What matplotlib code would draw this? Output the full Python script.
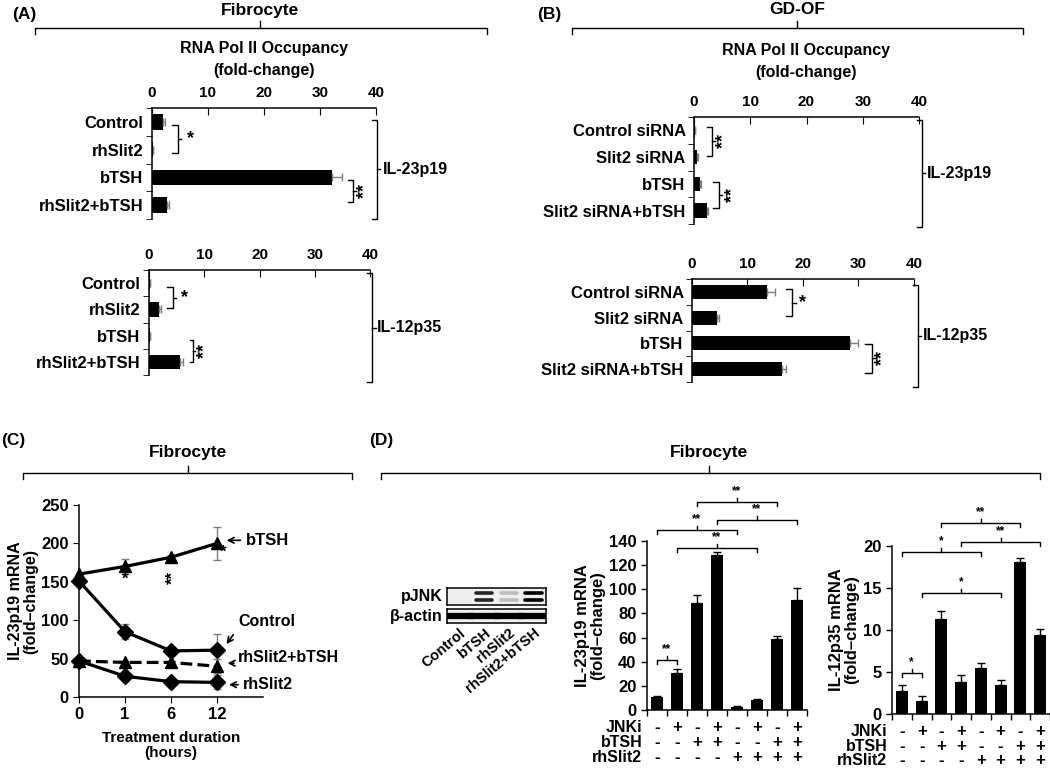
import numpy as np
import matplotlib.pyplot as plt
from matplotlib.lines import Line2D

plt.rcParams['font.family'] = ['Liberation Sans', 'DejaVu Sans']
plt.rcParams['font.weight'] = 'bold'
plt.rcParams['axes.labelweight'] = 'bold'
plt.rcParams['axes.linewidth'] = 1.1

# ---- data ----
a_labels = ["Control", "rhSlit2", "bTSH", "rhSlit2+bTSH"]
a_il23 = [2.0, 0.15, 32.1, 2.7]
a_il23_err = [0.3, 0.05, 1.8, 0.4]
a_il12 = [0.1, 1.8, 0.1, 5.6]
a_il12_err = [0.05, 0.3, 0.05, 0.6]

b_labels = ["Control siRNA", "Slit2 siRNA", "bTSH", "Slit2 siRNA+bTSH"]
b_il23 = [0.1, 0.6, 1.1, 2.3]
b_il23_err = [0.05, 0.1, 0.1, 0.2]
b_il12 = [13.5, 4.5, 28.5, 16.2]
b_il12_err = [1.5, 0.4, 1.4, 0.8]

hours = ["0", "1", "6", "12"]
c_btsh = [160, 170, 182, 200]
c_btsh_err = [2, 10, 3, 21]
c_control = [151, 85, 60, 61]
c_control_err = [3, 10, 3, 21]
c_combo = [47, 45, 45, 40]
c_combo_err = [2, 2, 2, 9]
c_rhslit2 = [47, 27, 20, 19]
c_rhslit2_err = [2, 3, 3, 9]

blot_lanes = ["Control", "bTSH", "rhSlit2", "rhSlit2+bTSH"]
pjnk = [0.0, 0.85, 0.2, 1.0]
actin = [1.0, 1.0, 1.0, 1.0]

d_il23 = [11, 30.5, 89, 128, 2.5, 8.3, 59, 91.5]
d_il23_err = [0.7, 3.3, 6.6, 2.5, 0.5, 0.4, 2.0, 9.5]
d_il12 = [2.7, 1.5, 11.3, 3.8, 5.5, 3.5, 18.1, 9.4]
d_il12_err = [0.7, 0.7, 1.0, 0.8, 0.6, 0.5, 0.5, 0.7]
jnki = ['-', '+', '-', '+', '-', '+', '-', '+']
btsh = ['-', '-', '+', '+', '-', '-', '+', '+']
rhslit2 = ['-', '-', '-', '-', '+', '+', '+', '+']

W, H = 1050, 770
fig = plt.figure(figsize=(10.5, 7.7), dpi=100)


def box(x0, y0, x1, y1):
    # pixel box (y from top) -> figure rect
    return [x0 / W, 1 - y1 / H, (x1 - x0) / W, (y1 - y0) / H]


def fx(x):
    return x / W


def fy(y):
    return 1 - y / H


def ftext(x, y, s, **kw):
    fig.text(fx(x), fy(y), s, **kw)


def top_brace(x0, x1, xm, y, title, ty):
    fig.add_artist(Line2D([fx(x0), fx(x0), fx(x1), fx(x1)],
                          [fy(y + 6), fy(y), fy(y), fy(y + 6)], color='k', lw=1))
    fig.add_artist(Line2D([fx(xm), fx(xm)], [fy(y), fy(y - 7)], color='k', lw=1))
    ftext(xm, ty, title, ha='center', va='center', fontsize=12.5)


def curly(ax, x, y0, y1, w, txt, tx, rot):
    ym = (y0 + y1) / 2
    ax.plot([x - w, x, x, x - w], [y0, y0, y1, y1], color='k', lw=1, clip_on=False)
    ax.plot([x, x + w * 0.6], [ym, ym], color='k', lw=1, clip_on=False)
    ax.text(tx, ym, txt, rotation=rot, ha='center', va='center', fontsize=13)


def right_bracket(ax, x, y0, y1, lx, gene):
    ym = (y0 + y1) / 2
    ax.plot([x - 0.9, x, x, x - 0.9], [y0, y0, y1, y1], color='k', lw=1, clip_on=False)
    ax.plot([x, x + 0.6], [ym, ym], color='k', lw=1, clip_on=False)
    ax.text(lx, ym, gene, ha='left', va='center', fontsize=11.5)


def hbar(rect, labels, vals, errs, sigs, rb, gene):
    ax = fig.add_axes(rect)
    y = np.arange(len(vals))
    ax.barh(y, vals, height=0.55, color='k')
    ax.errorbar(vals, y, xerr=[np.zeros(len(errs)), errs], fmt='none',
                ecolor='#7f7f7f', elinewidth=1, capsize=3)
    ax.set_xlim(0, 40)
    ax.set_ylim(3.5, -0.5)
    ax.xaxis.tick_top()
    ax.set_xticks([0, 10, 20, 30, 40])
    ax.tick_params(axis='x', direction='in', length=5, pad=6, labelsize=11)
    ax.set_yticks(y, labels)
    ax.set_yticks(np.arange(-0.5, 4), minor=True)
    ax.tick_params(axis='y', which='major', length=0, pad=6, labelsize=12)
    ax.tick_params(axis='y', which='minor', length=4, direction='out')
    ax.spines['right'].set_visible(False)
    ax.spines['bottom'].set_visible(False)
    for s in sigs:
        curly(ax, *s)
    right_bracket(ax, *rb, gene)
    return ax


# ---- panel A ----
ftext(12, 15, "(A)", ha='left', va='center', fontsize=12.5)
top_brace(35, 487, 260, 28, "Fibrocyte", 10)
ftext(264, 48, "RNA Pol ll Occupancy", ha='center', va='center', fontsize=11.5)
ftext(264, 70, "(fold-change)", ha='center', va='center', fontsize=11.5)
hbar(box(152, 108, 376, 219), a_labels, a_il23, a_il23_err,
     [(4.6, 0.11, 1.12, 1.0, '*', 6.8, 0), (35.9, 2.1, 2.9, 0.9, '**', 38.0, 90)],
     (40.2, -0.07, 3.5, 41.2), "IL-23p19")
hbar(box(149, 270, 370, 375), a_labels, a_il12, a_il12_err,
     [(4.3, 0.15, 0.95, 1.0, '*', 6.5, 0), (8.0, 2.17, 3.0, 0.6, '**', 10.1, 90)],
     (40.4, -0.38, 3.77, 41.2), "IL-12p35")

# ---- panel B ----
ftext(537, 15, "(B)", ha='left', va='center', fontsize=12.5)
top_brace(572, 1023, 797, 28, "GD-OF", 10)
ftext(806, 51, "RNA Pol II Occupancy", ha='center', va='center', fontsize=11.5)
ftext(806, 72, "(fold-change)", ha='center', va='center', fontsize=11.5)
hbar(box(694, 117, 919, 224), b_labels, b_il23, b_il23_err,
     [(3.2, -0.13, 0.96, 0.9, '**', 5.2, 90), (4.4, 1.93, 2.9, 1.0, '**', 6.8, 90)],
     (40.5, -0.39, 3.6, 41.4), "IL-23p19")
hbar(box(692, 279, 914, 382), b_labels, b_il12, b_il12_err,
     [(18.0, -0.11, 0.94, 1.1, '*', 20.0, 0), (32.4, 2.02, 3.15, 1.2, '**', 34.4, 90)],
     (40.7, -0.27, 3.69, 41.6), "IL-12p35")

# ---- panel C ----
ftext(1, 440, "(C)", ha='left', va='center', fontsize=12.5)
top_brace(23, 352, 188, 473, "Fibrocyte", 453)
axc = fig.add_axes(box(79, 505, 263, 697))
xs = np.arange(len(hours))
series = [(c_btsh, c_btsh_err, '^', '-'), (c_control, c_control_err, 'D', '-'),
          (c_combo, c_combo_err, '^', '--'), (c_rhslit2, c_rhslit2_err, 'D', '-')]
for vals, errs, mk, ls in series:
    axc.errorbar(xs, vals, yerr=errs, fmt='none', ecolor='#7f7f7f', elinewidth=1, capsize=3)
    axc.plot(xs, vals, color='k', marker=mk, ls=ls, lw=2.3, ms=8, clip_on=False)
axc.set_xlim(0, 4)
axc.set_ylim(0, 250)
axc.set_yticks(range(0, 251, 50))
axc.set_xticks(xs, hours)
axc.tick_params(labelsize=12, length=4)
axc.spines['top'].set_visible(False)
axc.spines['right'].set_visible(False)
axc.set_ylabel("IL-23p19 mRNA\n(fold\u2013change)", fontsize=11.5, labelpad=2, linespacing=1.0)
axc.set_xlabel("Treatment duration\n(hours)", fontsize=11, labelpad=6, linespacing=1.15)
axc.text(1.0, 153, "*", ha='center', va='center', fontsize=12, zorder=5)
axc.text(2.05, 155, "**", ha='center', va='center', fontsize=12, rotation=90, zorder=5)
axc.text(3.14, 188, "*", ha='center', va='center', fontsize=12, zorder=5)
arr = dict(arrowstyle='->', color='k', lw=1.2)
axc.annotate('', xy=(3.15, 204), xytext=(3.57, 204), arrowprops=arr)
axc.text(3.63, 204, "bTSH", ha='left', va='center', fontsize=12)
axc.annotate('', xy=(3.17, 66), xytext=(3.39, 84), arrowprops=arr)
axc.text(3.46, 98, "Control", ha='left', va='center', fontsize=11.5)
axc.annotate('', xy=(3.17, 44), xytext=(3.43, 44), arrowprops=arr)
axc.text(3.46, 52, "rhSlit2+bTSH", ha='left', va='center', fontsize=11.5)
axc.annotate('', xy=(3.2, 16), xytext=(3.52, 16), arrowprops=arr)
axc.text(3.57, 16, "rhSlit2", ha='left', va='center', fontsize=11.5)

# ---- panel D ----
ftext(369, 440, "(D)", ha='left', va='center', fontsize=12.5)
top_brace(381, 1040, 709, 473, "Fibrocyte", 453)

# western blot
axp = fig.add_axes(box(447, 588, 546, 605))
axa = fig.add_axes(box(447, 609, 546, 623))
for ax in (axp, axa):
    ax.set_xlim(-0.5, 3.5)
    ax.set_ylim(0, 1)
    ax.set_facecolor('#eeeeee')
    ax.set_yticks([])
    ax.tick_params(axis='x', length=0)
axp.set_xticks([])
for i, v in enumerate(pjnk):
    for yb in (0.3, 0.68):
        axp.plot([i - 0.33, i + 0.33], [yb, yb], color='k', lw=2.6, alpha=v,
                 solid_capstyle='round')
for i, v in enumerate(actin):
    axa.plot([i - 0.48, i + 0.48], [0.5, 0.5], color='k', lw=4.5, alpha=v)
axa.set_xticks(range(4), blot_lanes, rotation=40, ha='right', rotation_mode='anchor',
               fontsize=10.5)
axa.tick_params(axis='x', pad=2)
ftext(443, 597, "pJNK", ha='right', va='center', fontsize=11.5)
ftext(443, 616, "\u03b2-actin", ha='right', va='center', fontsize=11.5)


def sig(ax, i, j, y, h, txt):
    ax.plot([i + 0.5, i + 0.5, j + 0.5, j + 0.5], [y - h, y, y, y - h],
            color='k', lw=1, clip_on=False)
    m = (i + j) / 2 + 0.5
    ax.plot([m, m], [y, y + h], color='k', lw=1, clip_on=False)
    ax.annotate(txt, xy=(m, y + h), xytext=(0, 5), textcoords='offset points',
                ha='center', va='center', fontsize=8.5, annotation_clip=False)


def dbar(rect, vals, errs, yticks, ylabel, sigs, h):
    ax = fig.add_axes(rect)
    x = np.arange(len(vals)) + 0.5
    ax.bar(x, vals, width=0.62, color='k')
    ax.errorbar(x, vals, yerr=[np.zeros(len(errs)), errs], fmt='none', ecolor='k',
                elinewidth=1, capsize=3)
    ax.set_xlim(0, len(vals))
    ax.set_ylim(yticks[0], yticks[-1])
    ax.set_yticks(yticks)
    ax.set_xticks(range(len(vals) + 1), [''] * (len(vals) + 1))
    ax.tick_params(labelsize=12, length=4, width=1)
    ax.spines['top'].set_visible(False)
    ax.spines['right'].set_visible(False)
    ax.set_ylabel(ylabel, fontsize=12, labelpad=3, linespacing=1.0)
    for i, j, y, txt in sigs:
        sig(ax, i, j, y, h, txt)
    rows = [("JNKi", jnki), ("bTSH", btsh), ("rhSlit2", rhslit2)]
    for r, (name, signs) in enumerate(rows):
        yy = -0.105 - 0.087 * r
        ax.text(-0.03, yy, name, transform=ax.transAxes, ha='right', va='center',
                fontsize=11.5)
        for k, sgn in enumerate(signs):
            ax.text((k + 0.5) / len(vals), yy, sgn, transform=ax.transAxes,
                    ha='center', va='center', fontsize=12)
    return ax


dbar(box(647, 541, 807, 710), d_il23, d_il23_err, list(range(0, 141, 20)),
     "IL-23p19 mRNA\n(fold\u2013change)",
     [(0, 1, 41.5, '**'), (1, 5, 134.4, '**'), (0, 4, 149.4, '**'),
      (3, 7, 157.7, '**'), (2, 6, 172.6, '**')], 3.3)
dbar(box(892, 546, 1050, 714), d_il12, d_il12_err, list(range(0, 21, 5)),
     "IL-12p35 mRNA\n(fold\u2013change)",
     [(0, 1, 4.9, '*'), (1, 5, 14.4, '*'), (0, 4, 19.3, '*'),
      (3, 7, 20.5, '**'), (2, 6, 22.7, '**')], 0.48)

fig.savefig("out.png", dpi=100)
